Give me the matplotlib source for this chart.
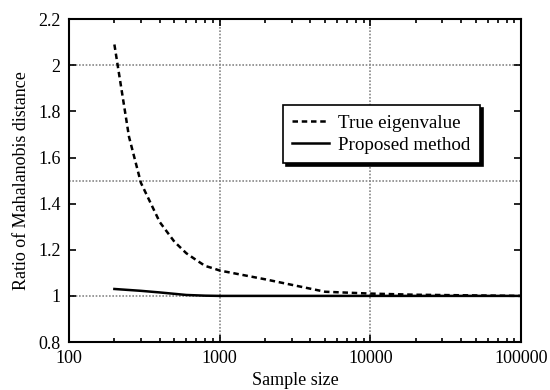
import matplotlib
matplotlib.use('Agg')
import matplotlib.pyplot as plt
from matplotlib.ticker import FuncFormatter, FixedLocator, LogLocator, NullFormatter

plt.rcParams['font.family'] = ['Liberation Serif', 'DejaVu Serif']
plt.rcParams['font.size'] = 13

# values
n_true = [200, 250, 300, 400, 500, 600, 700, 800, 900, 1000, 2000, 5000, 10000, 20000, 50000, 100000]
true_eig = [2.09, 1.69, 1.49, 1.32, 1.235, 1.185, 1.155, 1.13, 1.12, 1.11, 1.072, 1.018, 1.01, 1.005, 1.002, 1.0]

n_prop = [200, 300, 400, 500, 600, 800, 1000, 2000, 5000, 10000, 100000]
proposed = [1.03, 1.022, 1.015, 1.009, 1.004, 1.001, 1.0, 1.0, 1.0, 1.0, 1.0]

fig = plt.figure(figsize=(5.5, 3.9), dpi=100)
ax = fig.add_axes([0.1255, 0.123, 0.822, 0.828])

# dotted reference grid
for gx in [1000, 10000]:
    ax.axvline(gx, color='#888888', ls=(0, (1, 1)), lw=1.2, zorder=0)
for gy in [1.0, 1.5, 2.0]:
    ax.axhline(gy, color='#888888', ls=(0, (1, 1)), lw=1.2, zorder=0)

ax.plot(n_true, true_eig, color='black', lw=1.8, ls=(0, (2.2, 1.5)), label='True eigenvalue')
ax.plot(n_prop, proposed, color='black', lw=1.8, label='Proposed method')

ax.set_xscale('log')
ax.set_xlim(100, 100000)
ax.set_ylim(0.8, 2.2)
ax.xaxis.set_major_locator(FixedLocator([100, 1000, 10000, 100000]))
ax.xaxis.set_major_formatter(FuncFormatter(lambda v, p: '%d' % v))
ax.xaxis.set_minor_locator(LogLocator(base=10, subs=range(2, 10)))
ax.xaxis.set_minor_formatter(NullFormatter())
ax.set_yticks([0.8, 1.0, 1.2, 1.4, 1.6, 1.8, 2.0, 2.2])
ax.yaxis.set_major_formatter(FuncFormatter(lambda v, p: '%g' % round(v, 2)))

ax.tick_params(which='both', direction='in', top=True, right=True, width=1.2)
ax.tick_params(which='major', length=5)
ax.tick_params(which='minor', length=3)
ax.tick_params(axis='y', pad=6)
ax.tick_params(axis='x', pad=6)
for s in ax.spines.values():
    s.set_linewidth(1.5)

ax.set_xlabel('Sample size', labelpad=3)
ax.set_ylabel('Ratio of Mahalanobis distance', labelpad=6)

leg = ax.legend(loc='upper left', bbox_to_anchor=(0.473, 0.734), borderaxespad=0,
                fancybox=False, shadow={'color': 'black', 'alpha': 1, 'ox': 2, 'oy': -2},
                framealpha=1, edgecolor='black', handlelength=1.95, handletextpad=0.45,
                borderpad=0.5, labelspacing=0.25, fontsize=13.7)
leg.get_frame().set_linewidth(1.2)

fig.savefig('out.png', dpi=100)
